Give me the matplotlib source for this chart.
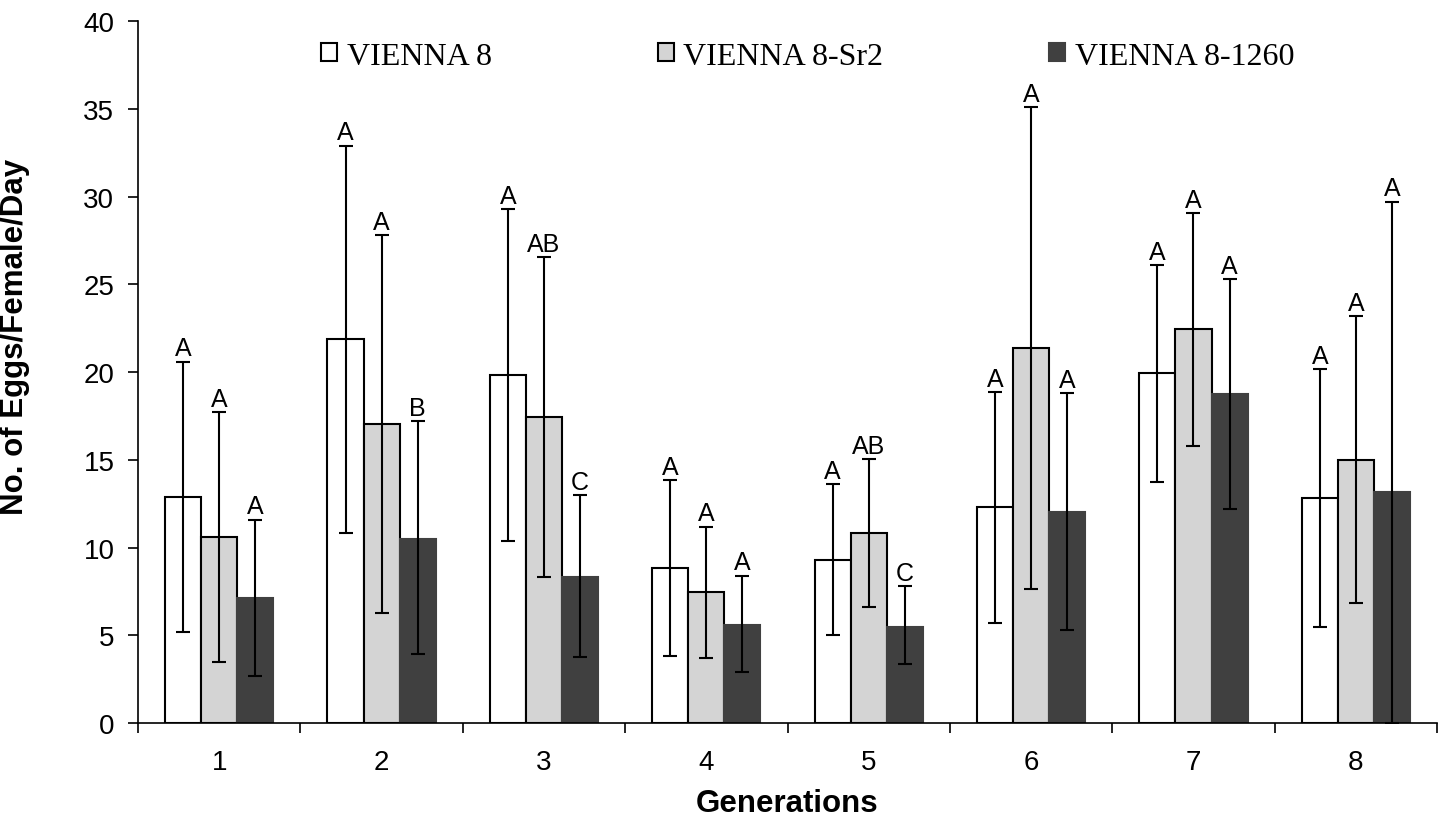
import numpy as np
import matplotlib.pyplot as plt

generations = ['1', '2', '3', '4', '5', '6', '7', '8']
series = ['VIENNA 8', 'VIENNA 8-Sr2', 'VIENNA 8-1260']

# means
v8 = [12.9, 21.9, 19.85, 8.85, 9.3, 12.3, 19.95, 12.8]
sr2 = [10.6, 17.05, 17.45, 7.45, 10.85, 21.4, 22.45, 15.0]
t1260 = [7.15, 10.5, 8.35, 5.6, 5.5, 12.0, 18.75, 13.15]

# error bar upper / lower ends
v8_hi = [20.6, 32.9, 29.3, 13.85, 13.6, 18.85, 26.1, 20.15]
v8_lo = [5.2, 10.85, 10.4, 3.85, 5.0, 5.7, 13.75, 5.45]
sr2_hi = [17.7, 27.8, 26.55, 11.2, 15.05, 35.1, 29.05, 23.2]
sr2_lo = [3.5, 6.3, 8.3, 3.7, 6.6, 7.65, 15.8, 6.85]
t1260_hi = [11.6, 17.2, 13.0, 8.4, 7.8, 18.8, 25.3, 29.7]
t1260_lo = [2.7, 3.95, 3.75, 2.9, 3.35, 5.3, 12.2, 0.0]

# significance letters
v8_let = ['A', 'A', 'A', 'A', 'A', 'A', 'A', 'A']
sr2_let = ['A', 'A', 'AB', 'A', 'AB', 'A', 'A', 'A']
t1260_let = ['A', 'B', 'C', 'A', 'C', 'A', 'A', 'A']

means = [v8, sr2, t1260]
his = [v8_hi, sr2_hi, t1260_hi]
los = [v8_lo, sr2_lo, t1260_lo]
lets = [v8_let, sr2_let, t1260_let]
colors = ['white', '#d4d4d4', '#404040']
edges = ['black', 'black', '#404040']

fig = plt.figure(figsize=(14.45, 8.2), dpi=100)
ax = fig.add_axes([0.0955, 0.117, 0.899, 0.856])

x = np.arange(len(generations))
w = 0.222
for k in range(3):
    xs = x + (k - 1) * w
    m = np.array(means[k])
    hi = np.array(his[k])
    lo = np.array(los[k])
    ax.bar(xs, m, width=w, color=colors[k], edgecolor=edges[k],
           linewidth=1.5, label=series[k], zorder=2)
    ax.errorbar(xs, m, yerr=[m - lo, hi - m], fmt='none', ecolor='black',
                elinewidth=1.5, capsize=5, capthick=1.5, zorder=3)
    for xi, h, t in zip(xs, hi, lets[k]):
        ax.annotate(t, (xi, h), xytext=(0, 1), textcoords='offset points',
                    ha='center', va='bottom', fontsize=18,
                    family='Liberation Sans')

ax.set_xlim(-0.5, len(generations) - 0.5)
ax.set_ylim(0, 40)
ax.set_yticks(np.arange(0, 41, 5))
ax.set_xticks(x)
ax.set_xticklabels(generations)
ax.set_xticks(np.arange(-0.5, len(generations)), minor=True)
ax.tick_params(axis='x', which='major', length=0, pad=19)
ax.tick_params(axis='x', which='minor', length=7, width=1.2)
ax.tick_params(axis='y', length=7, width=1.2, pad=10)
for lab in ax.get_xticklabels() + ax.get_yticklabels():
    lab.set_fontsize(20)
    lab.set_family('Liberation Sans')

for s in ['top', 'right']:
    ax.spines[s].set_visible(False)
for s in ['left', 'bottom']:
    ax.spines[s].set_linewidth(1.2)

ax.set_ylabel('No. of Eggs/Female/Day', fontsize=22.5, fontweight='bold',
              family='Liberation Sans')
ax.yaxis.set_label_coords(-0.083, 0.551)
ax.set_xlabel('Generations', fontsize=22.5, fontweight='bold',
              family='Liberation Sans', labelpad=9)

ax.legend(loc='center', bbox_to_anchor=(0.5155, 0.95), ncol=3, frameon=False,
          handlelength=0.5, handleheight=0.5, handletextpad=0.3,
          columnspacing=5.2, prop={'family': 'Liberation Serif', 'size': 23})

fig.savefig('out.png', dpi=100)
